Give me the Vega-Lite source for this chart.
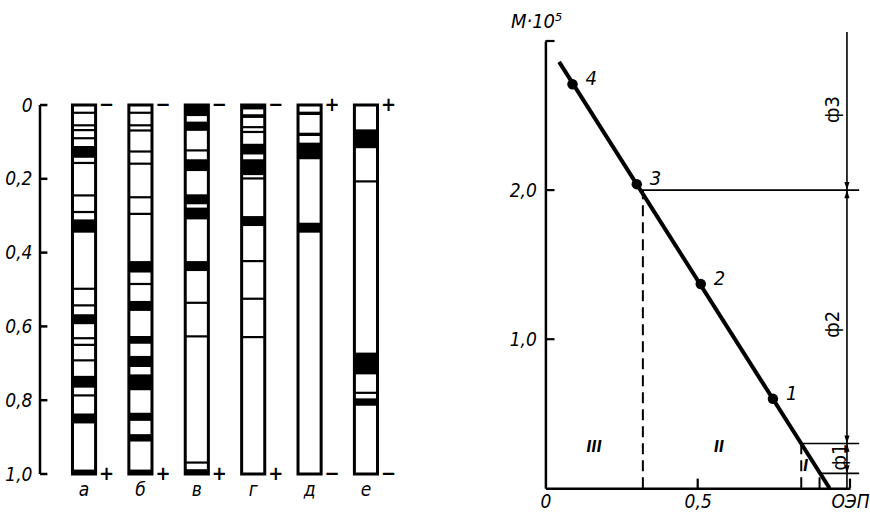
{
  "$schema": "https://vega.github.io/schema/vega-lite/v6.json",
  "background": "white",
  "padding": {"left": 4, "top": 11, "right": 5, "bottom": 3},
  "bounds": "flush",
  "spacing": 135.4,
  "config": {
    "view": {"stroke": null},
    "font": "Liberation Sans Narrow, DejaVu Sans Condensed, Liberation Sans",
    "axis": {"labelColor": "black", "domainColor": "black", "tickColor": "black", "grid": false,
             "labelFont": "Liberation Sans Narrow, DejaVu Sans Condensed, Liberation Sans",
             "titleFont": "Liberation Sans Narrow, DejaVu Sans Condensed, Liberation Sans"}
  },
  "datasets": {
    "strips": [
      {"strip": "а", "top": 0, "bottom": 1, "signTop": "−", "signBottom": "+"},
      {"strip": "б", "top": 0, "bottom": 1, "signTop": "−", "signBottom": "+"},
      {"strip": "в", "top": 0, "bottom": 1, "signTop": "−", "signBottom": "+"},
      {"strip": "г", "top": 0, "bottom": 1, "signTop": "−", "signBottom": "+"},
      {"strip": "д", "top": 0, "bottom": 1, "signTop": "+", "signBottom": "−"},
      {"strip": "е", "top": 0, "bottom": 1, "signTop": "+", "signBottom": "−"}
    ],
    "bands": [
      {"strip": "а", "from": 0.018, "to": 0.024}, {"strip": "а", "from": 0.052, "to": 0.058},
      {"strip": "а", "from": 0.065, "to": 0.071}, {"strip": "а", "from": 0.087, "to": 0.093},
      {"strip": "а", "from": 0.111, "to": 0.143}, {"strip": "а", "from": 0.154, "to": 0.160},
      {"strip": "а", "from": 0.242, "to": 0.248}, {"strip": "а", "from": 0.287, "to": 0.293},
      {"strip": "а", "from": 0.310, "to": 0.346}, {"strip": "а", "from": 0.495, "to": 0.501},
      {"strip": "а", "from": 0.540, "to": 0.546}, {"strip": "а", "from": 0.567, "to": 0.594},
      {"strip": "а", "from": 0.629, "to": 0.635}, {"strip": "а", "from": 0.647, "to": 0.653},
      {"strip": "а", "from": 0.689, "to": 0.695}, {"strip": "а", "from": 0.734, "to": 0.766},
      {"strip": "а", "from": 0.784, "to": 0.790}, {"strip": "а", "from": 0.836, "to": 0.863},
      {"strip": "а", "from": 0.988, "to": 1.0},
      {"strip": "б", "from": 0.018, "to": 0.024}, {"strip": "б", "from": 0.052, "to": 0.058},
      {"strip": "б", "from": 0.066, "to": 0.072}, {"strip": "б", "from": 0.123, "to": 0.129},
      {"strip": "б", "from": 0.156, "to": 0.162}, {"strip": "б", "from": 0.247, "to": 0.253},
      {"strip": "б", "from": 0.292, "to": 0.298}, {"strip": "б", "from": 0.423, "to": 0.454},
      {"strip": "б", "from": 0.482, "to": 0.488}, {"strip": "б", "from": 0.531, "to": 0.558},
      {"strip": "б", "from": 0.626, "to": 0.647}, {"strip": "б", "from": 0.680, "to": 0.710},
      {"strip": "б", "from": 0.730, "to": 0.773}, {"strip": "б", "from": 0.834, "to": 0.856},
      {"strip": "б", "from": 0.892, "to": 0.912}, {"strip": "б", "from": 0.988, "to": 1.0},
      {"strip": "в", "from": 0.0, "to": 0.03}, {"strip": "в", "from": 0.045, "to": 0.07},
      {"strip": "в", "from": 0.12, "to": 0.126}, {"strip": "в", "from": 0.147, "to": 0.179},
      {"strip": "в", "from": 0.242, "to": 0.269}, {"strip": "в", "from": 0.278, "to": 0.31},
      {"strip": "в", "from": 0.423, "to": 0.45}, {"strip": "в", "from": 0.533, "to": 0.539},
      {"strip": "в", "from": 0.624, "to": 0.630}, {"strip": "в", "from": 0.966, "to": 0.972},
      {"strip": "в", "from": 0.987, "to": 1.0},
      {"strip": "г", "from": 0.0, "to": 0.012}, {"strip": "г", "from": 0.025, "to": 0.035},
      {"strip": "г", "from": 0.057, "to": 0.063}, {"strip": "г", "from": 0.07, "to": 0.076},
      {"strip": "г", "from": 0.105, "to": 0.134}, {"strip": "г", "from": 0.147, "to": 0.19},
      {"strip": "г", "from": 0.196, "to": 0.202}, {"strip": "г", "from": 0.301, "to": 0.328},
      {"strip": "г", "from": 0.42, "to": 0.426}, {"strip": "г", "from": 0.522, "to": 0.528},
      {"strip": "г", "from": 0.626, "to": 0.632},
      {"strip": "д", "from": 0.018, "to": 0.027}, {"strip": "д", "from": 0.075, "to": 0.084},
      {"strip": "д", "from": 0.102, "to": 0.147}, {"strip": "д", "from": 0.319, "to": 0.346},
      {"strip": "е", "from": 0.066, "to": 0.117}, {"strip": "е", "from": 0.204, "to": 0.21},
      {"strip": "е", "from": 0.671, "to": 0.730}, {"strip": "е", "from": 0.777, "to": 0.783},
      {"strip": "е", "from": 0.795, "to": 0.815}
    ],
    "axisline": [{"x": 0, "y": 0, "y2": 1}],
    "lticks": [{"y": 0}, {"y": 0.2}, {"y": 0.4}, {"y": 0.6}, {"y": 0.8}, {"y": 1.0}],
    "yticks": [{"y": 1}, {"y": 2}, {"y": 3}],
    "xticks": [{"x": 0.5}, {"x": 1.0}],
    "fit": [{"x": 0.045, "y": 2.86}, {"x": 0.933, "y": 0}],
    "pts": [
      {"x": 0.089, "y": 2.71, "label": "4"},
      {"x": 0.30, "y": 2.04, "label": "3"},
      {"x": 0.51, "y": 1.37, "label": "2"},
      {"x": 0.747, "y": 0.60, "label": "1"}
    ],
    "hlines": [
      {"x": 0.31, "x2": 1.03, "y": 2.0},
      {"x": 0.84, "x2": 1.03, "y": 0.3},
      {"x": 0.9, "x2": 1.03, "y": 0.1}
    ],
    "dashed": [
      {"x": 0.32, "y": 0, "y2": 2.0},
      {"x": 0.84, "y": 0, "y2": 0.3},
      {"x": 0.9, "y": 0, "y2": 0.1}
    ],
    "vline": [{"x": 0.99, "y": 0, "y2": 3.06}],
    "arrows": [
      {"x": 0.99, "y": 2.0, "dir": "down"},
      {"x": 0.99, "y": 2.0, "dir": "up"},
      {"x": 0.99, "y": 0.3, "dir": "down"},
      {"x": 0.99, "y": 0.3, "dir": "up"},
      {"x": 0.99, "y": 0.1, "dir": "down"}
    ],
    "zones": [
      {"x": 0.16, "y": 0.28, "label": "III"},
      {"x": 0.57, "y": 0.28, "label": "II"},
      {"x": 0.855, "y": 0.15, "label": "I"}
    ],
    "phi": [
      {"x": 0.944, "y": 2.54, "label": "ф3"},
      {"x": 0.944, "y": 1.10, "label": "ф2"},
      {"x": 0.966, "y": 0.21, "label": "ф1"}
    ]
  },
  "hconcat": [
    {
      "width": 370,
      "height": 433,
      "layer": [
        {
          "encoding": {
            "x": {"field": "strip", "type": "nominal", "sort": null,
                  "scale": {"domain": ["а", "б", "в", "г", "д", "е"], "paddingInner": 0.59, "paddingOuter": 0.576},
                  "axis": {"orient": "bottom", "domain": false, "ticks": false, "labelAngle": 0, "labelFontSize": 19,
                           "labelFontStyle": "italic", "labelPadding": 6, "title": null}},
            "y": {"type": "quantitative",
                  "scale": {"domain": [-0.1735, 1], "reverse": true, "nice": false, "zero": false}}
          },
          "layer": [
            {
              "data": {"name": "strips"},
              "mark": {"type": "rect", "fill": "white", "stroke": "black", "strokeWidth": 3},
              "encoding": {
                "y": {"field": "top", "type": "quantitative",
                      "axis": {"values": [0, 0.2, 0.4, 0.6, 0.8, 1], "domain": false, "ticks": false,
                               "labelExpr": "datum.value == 0 ? '0' : replace(format(datum.value, '.1f'), '.', ',')",
                               "labelFontSize": 19, "labelFontStyle": "italic", "labelPadding": 8, "title": null}},
                "y2": {"field": "bottom"}
              }
            },
            {
              "data": {"name": "bands"},
              "mark": {"type": "rect", "fill": "black"},
              "encoding": {"y": {"field": "from", "type": "quantitative"}, "y2": {"field": "to"}}
            },
            {
              "data": {"name": "strips"},
              "mark": {"type": "text", "align": "left", "baseline": "middle", "dx": 15, "fontSize": 20, "fontWeight": "bold"},
              "encoding": {"y": {"field": "top", "type": "quantitative"}, "text": {"field": "signTop"}}
            },
            {
              "data": {"name": "strips"},
              "mark": {"type": "text", "align": "left", "baseline": "middle", "dx": 15, "fontSize": 20, "fontWeight": "bold"},
              "encoding": {"y": {"field": "bottom", "type": "quantitative"}, "text": {"field": "signBottom"}}
            }
          ]
        },
        {
          "encoding": {
            "x": {"type": "quantitative", "scale": {"domain": [0, 1], "nice": false, "zero": false}, "axis": null}
          },
          "layer": [
            {
              "data": {"name": "axisline"},
              "mark": {"type": "rule", "strokeWidth": 2.5, "color": "black"},
              "encoding": {
                "x": {"field": "x", "type": "quantitative"},
                "y": {"field": "y", "type": "quantitative"},
                "y2": {"field": "y2"}
              }
            },
            {
              "data": {"name": "lticks"},
              "mark": {"type": "rule", "strokeWidth": 2.5, "color": "black"},
              "encoding": {
                "x": {"datum": 0, "type": "quantitative"},
                "x2": {"datum": 0.02},
                "y": {"field": "y", "type": "quantitative"}
              }
            }
          ]
        }
      ],
      "resolve": {"scale": {"x": "independent"}}
    },
    {
      "width": 304.6,
      "height": 447.3,
      "encoding": {
        "x": {"type": "quantitative", "scale": {"domain": [0, 1], "nice": false, "zero": false}},
        "y": {"type": "quantitative", "scale": {"domain": [0, 3], "nice": false, "zero": false}}
      },
      "layer": [
        {
          "data": {"name": "fit"},
          "mark": {"type": "line", "strokeWidth": 4, "color": "black"},
          "encoding": {
            "x": {"field": "x", "type": "quantitative",
                  "axis": {"values": [0, 0.5, 1], "domainWidth": 2.5, "ticks": false,
                           "labelExpr": "datum.value == 0 ? '0' : datum.value == 1 ? 'ОЭП' : '0,5'",
                           "labelFontSize": 19, "labelFontStyle": "italic", "labelPadding": 4, "labelFlush": false,
                           "labelOverlap": false, "title": null}},
            "y": {"field": "y", "type": "quantitative",
                  "axis": {"values": [1, 2, 3], "domainWidth": 2.5, "ticks": false,
                           "labelExpr": "datum.value == 3 ? '' : replace(format(datum.value, '.1f'), '.', ',')",
                           "labelFontSize": 19, "labelFontStyle": "italic", "labelPadding": 9,
                           "title": "М·10⁵", "titleAngle": 0, "titleAlign": "left", "titleBaseline": "alphabetic",
                           "titleX": -35, "titleY": -14, "titleFontSize": 20, "titleFontStyle": "italic",
                           "titleFontWeight": "normal", "titleColor": "black"}}
          }
        },
        {
          "data": {"name": "yticks"},
          "mark": {"type": "rule", "strokeWidth": 2.2, "color": "black"},
          "encoding": {"x": {"datum": 0, "type": "quantitative"}, "x2": {"datum": 0.03}, "y": {"field": "y", "type": "quantitative"}}
        },
        {
          "data": {"name": "xticks"},
          "mark": {"type": "rule", "strokeWidth": 2.2, "color": "black"},
          "encoding": {"x": {"field": "x", "type": "quantitative"}, "y": {"datum": 0, "type": "quantitative"}, "y2": {"datum": 0.065}}
        },
        {
          "data": {"name": "hlines"},
          "mark": {"type": "rule", "strokeWidth": 1.6, "color": "black"},
          "encoding": {"x": {"field": "x", "type": "quantitative"}, "x2": {"field": "x2"}, "y": {"field": "y", "type": "quantitative"}}
        },
        {
          "data": {"name": "dashed"},
          "mark": {"type": "rule", "strokeWidth": 2, "color": "black", "strokeDash": [11, 6]},
          "encoding": {"x": {"field": "x", "type": "quantitative"}, "y": {"field": "y", "type": "quantitative"}, "y2": {"field": "y2"}}
        },
        {
          "data": {"name": "vline"},
          "mark": {"type": "rule", "strokeWidth": 1.6, "color": "black"},
          "encoding": {"x": {"field": "x", "type": "quantitative"}, "y": {"field": "y", "type": "quantitative"}, "y2": {"field": "y2"}}
        },
        {
          "data": {"name": "pts"},
          "mark": {"type": "point", "filled": true, "size": 110, "color": "black", "opacity": 1},
          "encoding": {"x": {"field": "x", "type": "quantitative"}, "y": {"field": "y", "type": "quantitative"}}
        },
        {
          "data": {"name": "pts"},
          "mark": {"type": "text", "align": "left", "baseline": "middle", "dx": 13, "dy": -5, "fontSize": 20, "fontStyle": "italic"},
          "encoding": {"x": {"field": "x", "type": "quantitative"}, "y": {"field": "y", "type": "quantitative"}, "text": {"field": "label"}}
        },
        {
          "data": {"name": "arrows"},
          "mark": {"type": "point", "filled": true, "color": "black", "opacity": 1, "size": 260},
          "encoding": {
            "x": {"field": "x", "type": "quantitative"},
            "y": {"field": "y", "type": "quantitative"},
            "shape": {"field": "dir", "type": "nominal", "legend": null,
                      "scale": {"domain": ["down", "up"], "range": ["M-0.32,-1L0.32,-1L0,0Z", "M-0.32,1L0.32,1L0,0Z"]}}
          }
        },
        {
          "data": {"name": "zones"},
          "mark": {"type": "text", "align": "center", "baseline": "middle", "fontSize": 15, "fontStyle": "italic", "fontWeight": "bold"},
          "encoding": {"x": {"field": "x", "type": "quantitative"}, "y": {"field": "y", "type": "quantitative"}, "text": {"field": "label"}}
        },
        {
          "data": {"name": "phi"},
          "mark": {"type": "text", "align": "center", "baseline": "middle", "fontSize": 20, "angle": 270},
          "encoding": {"x": {"field": "x", "type": "quantitative"}, "y": {"field": "y", "type": "quantitative"}, "text": {"field": "label"}}
        }
      ]
    }
  ]
}
